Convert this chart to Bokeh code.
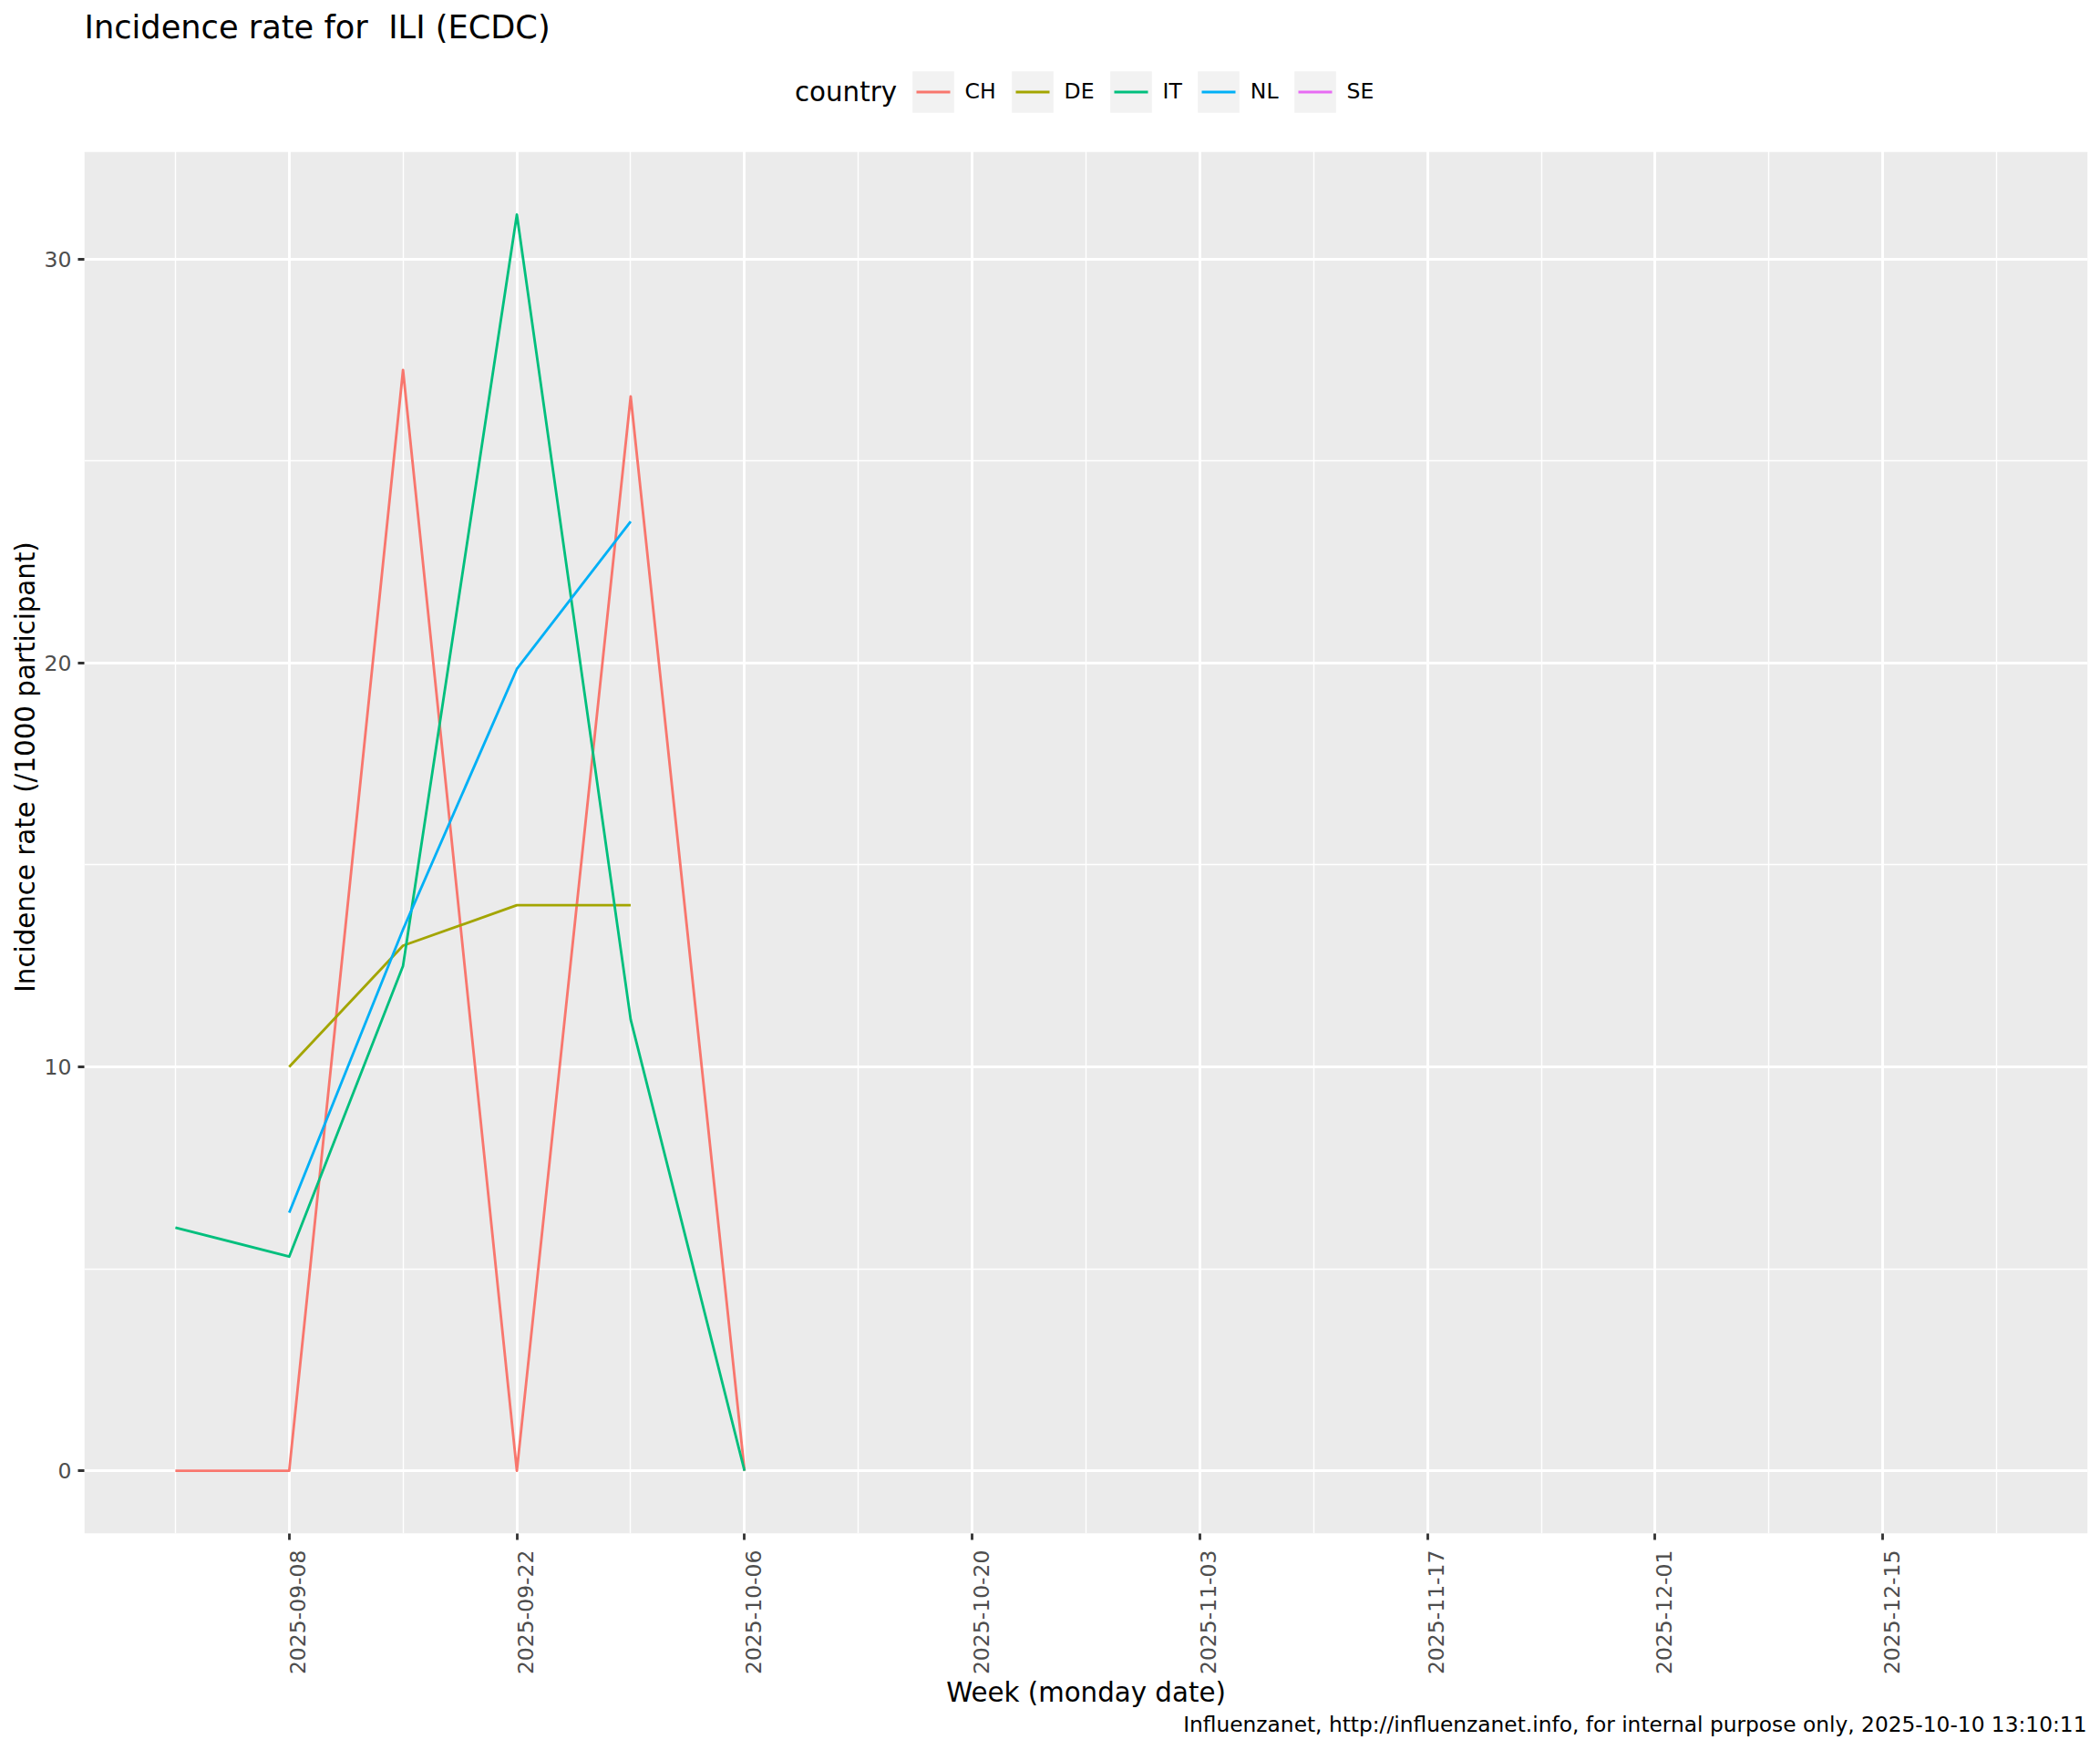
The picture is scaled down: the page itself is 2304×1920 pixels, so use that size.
import math
import pandas as pd
from bokeh.plotting import figure
from bokeh.models import (Range1d, FixedTicker, DatetimeTickFormatter, DatetimeAxis,
                          CustomJSTickFormatter, Legend, LegendItem, Title, Label,
                          BoxAnnotation, ColumnDataSource)
from bokeh.embed import file_html
from bokeh.resources import INLINE

# ---------------- data ----------------
countries = ["CH", "DE", "IT", "NL", "SE"]
colors = ["#F8766D", "#A3A500", "#00BF7D", "#00B0F6", "#E76BF3"]

ch_weeks = ["2025-09-01", "2025-09-08", "2025-09-15", "2025-09-22", "2025-09-29", "2025-10-06"]
ch_rate = [0.0, 0.0, 27.25, 0.0, 26.6, 0.0]
de_weeks = ["2025-09-08", "2025-09-15", "2025-09-22", "2025-09-29"]
de_rate = [10.0, 13.0, 14.0, 14.0]
it_weeks = ["2025-09-01", "2025-09-08", "2025-09-15", "2025-09-22", "2025-09-29", "2025-10-06"]
it_rate = [6.02, 5.3, 12.5, 31.1, 11.17, 0.0]
nl_weeks = ["2025-09-08", "2025-09-15", "2025-09-22", "2025-09-29"]
nl_rate = [6.39, 13.4, 19.85, 23.5]
se_weeks = []
se_rate = []

x_ticks = ["2025-09-08", "2025-09-22", "2025-10-06", "2025-10-20",
           "2025-11-03", "2025-11-17", "2025-12-01", "2025-12-15"]
x_minor = ["2025-09-01", "2025-09-15", "2025-09-29", "2025-10-13", "2025-10-27",
           "2025-11-10", "2025-11-24", "2025-12-08", "2025-12-22"]
x_limits = ["2025-09-01", "2025-12-22"]
y_ticks = [0, 10, 20, 30]
y_minor = [5, 15, 25]

title_text = "Incidence rate for \u00a0ILI (ECDC)"
legend_title = "country"
x_title = "Week (monday date)"
y_title = "Incidence rate (/1000 participant)"
caption = "Influenzanet, http://influenzanet.info, for internal purpose only, 2025-10-10 13:10:11"

series = {
    "CH": (ch_weeks, ch_rate),
    "DE": (de_weeks, de_rate),
    "IT": (it_weeks, it_rate),
    "NL": (nl_weeks, nl_rate),
    "SE": (se_weeks, se_rate),
}

def ms(d):
    return pd.Timestamp(d).value // 10**6

FONT = "DejaVu Sans"
LW = 2.84
NAN = float("nan")

# ---------------- layout (pixels) ----------------
W, H = 2304, 1920
FL, FT, FR, FB = 92, 166, 2290, 1682   # grey panel edges
PANEL_H = FB - FT

# ---------------- ranges ----------------
xa, xb = ms(x_limits[0]), ms(x_limits[1])
xpad = 0.05 * (xb - xa)
x_lo, x_hi = xa - xpad, xb + xpad
all_vals = ch_rate + de_rate + it_rate + nl_rate + se_rate
ya, yb = 0.0, max(all_vals)
ypad = 0.05 * (yb - ya)
y_lo, y_hi = ya - ypad, yb + ypad
px_per_unit = PANEL_H / (y_hi - y_lo)
y_top = y_hi + FT / px_per_unit        # frame extends up to the top of the canvas

p = figure(width=W, height=H, x_axis_type="datetime", title=None,
           x_range=Range1d(x_lo, x_hi),
           y_range=Range1d(y_lo, y_top),
           output_backend="svg", toolbar_location=None,
           min_border_left=FL, min_border_right=W - FR,
           min_border_top=0, min_border_bottom=H - FB)

p.background_fill_color = None
p.border_fill_color = "white"
p.outline_line_color = None

# grey panel (drawn below the grid)
p.add_layout(BoxAnnotation(top=y_hi, fill_color="#EBEBEB", fill_alpha=1.0,
                           line_alpha=0, level="image"))

# ---------------- axes ----------------
fmt = "%Y-%m-%d"
def date_fmt():
    return DatetimeTickFormatter(
        microseconds=fmt, milliseconds=fmt, seconds=fmt, minsec=fmt, minutes=fmt,
        hourmin=fmt, hours=fmt, days=fmt, months=fmt, years=fmt)

tick_ms = [ms(d) for d in x_ticks]
xax = p.xaxis[0]
xax.ticker = FixedTicker(ticks=tick_ms, minor_ticks=[ms(d) for d in x_minor])
xax.formatter = CustomJSTickFormatter(code="return '';")
xax.major_label_standoff = 0
p.yaxis.ticker = FixedTicker(ticks=y_ticks, minor_ticks=y_minor)

# label axis: same dates, labels set beside the tick as in the reference
ms_per_px = (x_hi - x_lo) / (FR - FL)
lab_axis = DatetimeAxis(ticker=FixedTicker(ticks=[t + 9.5 * ms_per_px for t in tick_ms]),
                        formatter=date_fmt(),
                        major_label_orientation=math.pi / 2)

for ax in (xax, lab_axis, p.yaxis[0]):
    ax.axis_line_color = None
    ax.major_tick_line_color = "#333333"
    ax.major_tick_line_width = LW
    ax.major_tick_in = 0
    ax.major_tick_out = 7
    ax.minor_tick_line_color = None
    ax.major_label_text_font = FONT
    ax.major_label_text_font_size = "23.5px"
    ax.major_label_text_color = "#4D4D4D"
    ax.axis_label_text_font = FONT
    ax.axis_label_text_font_size = "29.3px"
    ax.axis_label_text_font_style = "normal"
    ax.axis_label_text_color = "black"

lab_axis.major_tick_line_color = None
lab_axis.major_tick_out = 0
lab_axis.major_label_standoff = 11
lab_axis.axis_label = x_title
lab_axis.axis_label_standoff = 0
p.add_layout(lab_axis, "below")

p.yaxis.axis_label = y_title
p.yaxis.major_label_standoff = 7
p.yaxis.axis_label_standoff = 1

for g in (p.xgrid, p.ygrid):
    g.grid_line_color = "white"
    g.grid_line_width = LW
    g.minor_grid_line_color = "white"
    g.minor_grid_line_width = LW / 2

# white band above the grey panel (holds title and legend), covers grid lines
p.add_layout(BoxAnnotation(bottom=y_hi, fill_color="white", fill_alpha=1.0,
                           line_alpha=0, level="underlay"))

# ---------------- lines ----------------
key_bg = p.rect(x=[NAN], y=[NAN], width=1, height=1,
                fill_color="#F2F2F2", line_color=None)
items = []
for name, col in zip(countries, colors):
    wk, rt = series[name]
    src = ColumnDataSource(dict(week=pd.to_datetime(wk), rate=rt))
    p.line(x="week", y="rate", source=src, line_color=col, line_width=LW,
           line_join="round")
    key_line = p.line(x=[NAN], y=[NAN], line_color=col, line_width=LW,
                      line_dash="0 10 37 100")
    items.append(LegendItem(label=name, renderers=[key_bg, key_line]))

legend = Legend(items=items, orientation="horizontal",
                location=(994.5 - FL, FB - 128.5),
                glyph_width=57, glyph_height=57, label_standoff=7, spacing=11,
                padding=0, margin=0,
                background_fill_alpha=0, border_line_alpha=0,
                label_text_font=FONT, label_text_font_size="23.5px",
                label_text_color="black")
p.add_layout(legend)

# ---------------- title / legend title / caption ----------------
p.add_layout(Label(x=0, y=FB - 29.4, x_units="screen", y_units="screen",
                   text=title_text, text_font=FONT, text_font_size="35.2px",
                   text_color="black", text_align="left",
                   text_baseline="alphabetic"))
p.add_layout(Label(x=871.5 - FL, y=FB - 100, x_units="screen", y_units="screen",
                   text=legend_title, text_font=FONT, text_font_size="29.3px",
                   text_color="black", text_align="left",
                   text_baseline="alphabetic"))
p.add_layout(Title(text=caption, align="right", offset=1, standoff=0,
                   vertical_align="top", text_font=FONT,
                   text_font_size="23.3px", text_font_style="normal",
                   text_color="black"), "below")

open("out.html", "w").write(file_html(p, INLINE))
